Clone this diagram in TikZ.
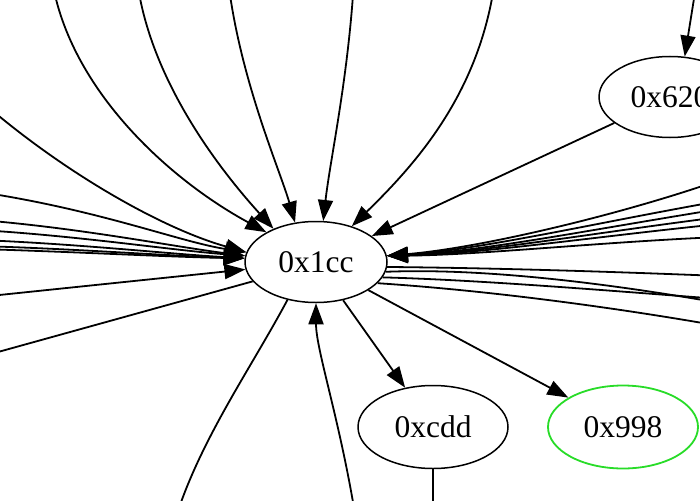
\documentclass[tikz,border=0pt]{standalone}
\usepackage{fontspec}
\setmainfont{Liberation Serif}
\usetikzlibrary{shapes.geometric,arrows.meta}
\definecolor{nodegreen}{RGB}{40,220,40}
\tikzset{
  gnode/.style={draw,ellipse,line width=1.5pt,minimum width=142pt,minimum height=81pt,inner sep=0pt,font=\fontsize{31.5}{36}\selectfont},
  wnode/.style={gnode,minimum width=150pt,minimum height=83pt},
  edge/.style={line width=1.8pt,-{Triangle[length=21pt,width=15pt]}},
  plain/.style={line width=1.8pt}
}
\begin{document}
\begin{tikzpicture}[x=1pt,y=-1pt]
\useasboundingbox (0,0) rectangle (700,500);
\clip (0,0) rectangle (700,500);
% nodes
\node[gnode] (cc) at (316,262) {0x1cc};
\node[gnode] (n620) at (670,97) {0x620};
\node[wnode] (cdd) at (433,427) {0xcdd};
\node[wnode,draw=nodegreen,line width=1.8pt] (n998) at (623,427) {0x998};
% free ends
\coordinate (ta) at (52,-20);
\coordinate (tb) at (137,-20);
\coordinate (tc) at (228,-20);
\coordinate (td) at (354,-20);
\coordinate (te) at (495,-20);
\coordinate (tf) at (697,-20);
\coordinate (l1) at (-20,100);
\coordinate (l2) at (-20,192);
\coordinate (l3) at (-20,220);
\coordinate (l4) at (-20,230);
\coordinate (l5) at (-20,240);
\coordinate (l6) at (-20,246);
\coordinate (l7) at (-20,249);
\coordinate (l8) at (-20,297);
\coordinate (l9) at (-20,357);
\coordinate (r1) at (720,180);
\coordinate (r2) at (720,201);
\coordinate (r3) at (720,209);
\coordinate (r4) at (720,217);
\coordinate (r5) at (720,224);
\coordinate (r6) at (720,237);
\coordinate (o1) at (720,276);
\coordinate (o2) at (720,303);
\coordinate (o3) at (720,299);
\coordinate (o4) at (720,326);
\coordinate (b1) at (175,520);
\coordinate (b2) at (356,520);
\coordinate (b3) at (433,520);
% top incoming
\draw[edge] (ta) .. controls (70,90) and (170,180) .. (cc.149);
\draw[edge] (tb) .. controls (150,80) and (220,170) .. (cc.142);
\draw[edge] (tc) .. controls (240,80) and (280,170) .. (cc.118);
\draw[edge] (td) .. controls (348,80) and (330,160) .. (cc.80);
\draw[edge] (te) .. controls (480,90) and (420,160) .. (cc.45);
\draw[edge] (n620) -- (cc);
\draw[edge] (tf) -- (n620.70);
% left incoming
\draw[edge] (l1) .. controls (60,170) and (160,228) .. (cc.172);
\draw[edge] (l2) .. controls (100,210) and (180,242) .. (cc.172);
\draw[edge] (l3) .. controls (80,228) and (170,246) .. (cc.175);
\draw[edge] (l4) .. controls (80,236) and (170,250) .. (cc.175);
\draw[edge] (l5) .. controls (80,244) and (170,254) .. (cc.177);
\draw[edge] (l6) .. controls (80,249) and (170,256) .. (cc.177);
\draw[edge] (l7) .. controls (80,252) and (170,257) .. (cc.177);
\draw[edge] (l8) -- (cc.186);
\draw[plain] (cc.197) -- (l9);
% right incoming
\draw[edge] (r1) .. controls (620,215) and (480,248) .. (cc.5);
\draw[edge] (r2) .. controls (600,222) and (480,250) .. (cc.5);
\draw[edge] (r3) .. controls (600,228) and (480,252) .. (cc.5);
\draw[edge] (r4) .. controls (600,232) and (480,253) .. (cc.5);
\draw[edge] (r5) .. controls (600,236) and (480,254) .. (cc.5);
\draw[edge] (r6) .. controls (600,242) and (480,255) .. (cc.5);
% right outgoing
\draw[plain] (cc.356) .. controls (500,268) and (620,272) .. (o1);
\draw[plain] (cc.352) .. controls (480,268) and (600,282) .. (o2);
\draw[plain] (cc.347) .. controls (480,280) and (600,290) .. (o3);
\draw[plain] (cc.341) .. controls (480,290) and (600,305) .. (o4);
% bottom
\draw[plain] (cc.233) .. controls (250,370) and (200,440) .. (b1);
\draw[edge] (b2) .. controls (340,420) and (316,350) .. (cc.270);
\draw[edge] (cc) -- (cdd);
\draw[edge] (cc) -- (n998);
\draw[plain] (cdd) -- (b3);
\end{tikzpicture}
\end{document}
